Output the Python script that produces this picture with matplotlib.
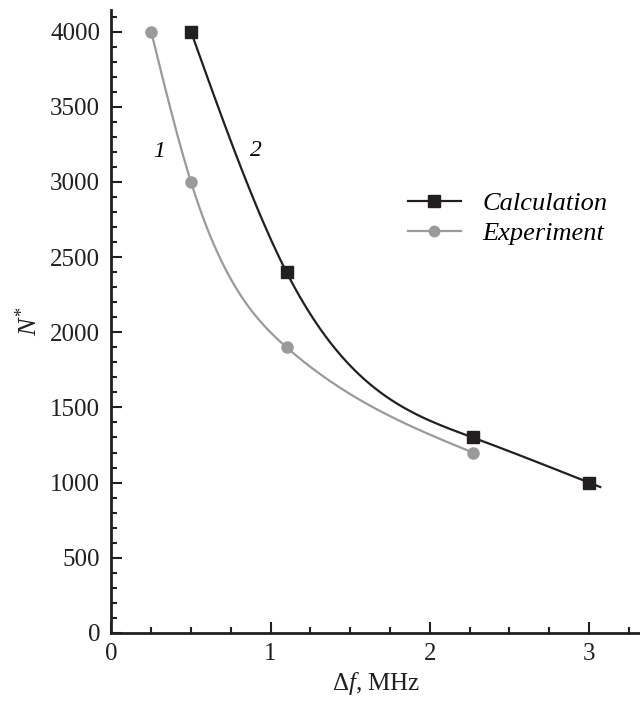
import numpy as np
import matplotlib
matplotlib.use("Agg")
import matplotlib.pyplot as plt
from matplotlib.ticker import MultipleLocator

# Data
calc_x = [0.5, 1.1, 2.27, 3.0]
calc_y = [4000, 2400, 1300, 1000]
exp_x = [0.25, 0.5, 1.1, 2.27]
exp_y = [4000, 3000, 1900, 1200]
x_ticks = [0, 1, 2, 3]
y_ticks = [0, 500, 1000, 1500, 2000, 2500, 3000, 3500, 4000]


def natural_spline(x, y, xs):
    x = np.asarray(x, float); y = np.asarray(y, float)
    n = len(x)
    h = np.diff(x)
    A = np.zeros((n, n)); b = np.zeros(n)
    A[0, 0] = 1; A[-1, -1] = 1
    for i in range(1, n - 1):
        A[i, i - 1] = h[i - 1]
        A[i, i] = 2 * (h[i - 1] + h[i])
        A[i, i + 1] = h[i]
        b[i] = 3 * ((y[i + 1] - y[i]) / h[i] - (y[i] - y[i - 1]) / h[i - 1])
    c = np.linalg.solve(A, b)
    out = np.empty_like(xs)
    for k, xv in enumerate(xs):
        i = np.clip(np.searchsorted(x, xv) - 1, 0, n - 2)
        bi = (y[i + 1] - y[i]) / h[i] - h[i] * (2 * c[i] + c[i + 1]) / 3
        di = (c[i + 1] - c[i]) / (3 * h[i])
        dx = xv - x[i]
        out[k] = y[i] + bi * dx + c[i] * dx ** 2 + di * dx ** 3
    return out


plt.rcParams['font.family'] = ['Liberation Serif', 'DejaVu Serif']
plt.rcParams['mathtext.fontset'] = 'custom'
plt.rcParams['mathtext.rm'] = 'Liberation Serif'
plt.rcParams['mathtext.it'] = 'Liberation Serif:italic'

black = '#231f20'
gray = '#9a9a9a'

fig = plt.figure(figsize=(6.4, 7.04), dpi=100)
ax = fig.add_axes([0.174, 0.101, 0.826, 0.885])

xs_c = np.linspace(calc_x[0], calc_x[-1] + 0.07, 300)
ys_c = natural_spline(calc_x, calc_y, xs_c)
xs_e = np.linspace(exp_x[0], exp_x[-1], 300)
ys_e = natural_spline(exp_x, exp_y, xs_e)

ax.plot(xs_e, ys_e, color=gray, lw=1.6)
ax.plot(xs_c, ys_c, color=black, lw=1.6)
ax.plot(exp_x, exp_y, 'o', color=gray, ms=8)
ax.plot(calc_x, calc_y, 's', color=black, ms=8.5)

# legend handles
ax.plot([], [], '-s', color=black, lw=1.6, ms=8, label='Calculation')
ax.plot([], [], '-o', color=gray, lw=1.6, ms=7.5, label='Experiment')
handles, labels = ax.get_legend_handles_labels()
leg = ax.legend(handles[-2:], labels[-2:], loc='upper left',
                bbox_to_anchor=(0.516, 0.7465), frameon=False,
                prop={'family': 'Liberation Serif', 'style': 'italic', 'size': 19},
                handlelength=2.0, handletextpad=0.83, labelspacing=0.25)

ax.text(0.30, 3200, '1', fontsize=17, style='italic', ha='center', va='center')
ax.text(0.905, 3210, '2', fontsize=17, style='italic', ha='center', va='center')

ax.set_xlim(0, 3.32)
ax.set_ylim(0, 4145)
ax.set_xticks(x_ticks)
ax.set_yticks(y_ticks)
ax.xaxis.set_minor_locator(MultipleLocator(0.25))
ax.yaxis.set_minor_locator(MultipleLocator(100))
ax.tick_params(which='both', direction='in', width=1.5, labelsize=18, colors=black)
ax.tick_params(which='major', length=8)
ax.tick_params(which='minor', length=4.5)
ax.tick_params(axis='y', pad=8)
ax.tick_params(axis='x', pad=7)
for s in ['top', 'right']:
    ax.spines[s].set_visible(False)
for s in ['left', 'bottom']:
    ax.spines[s].set_linewidth(2)
    ax.spines[s].set_color(black)

ax.set_xlabel(r'$\Delta\mathit{f}$, MHz', fontsize=18, color=black, labelpad=4)
ax.set_ylabel(r'$\mathit{N}^{*}$', fontsize=19, color=black, labelpad=6)

fig.savefig('out.png', dpi=100)
